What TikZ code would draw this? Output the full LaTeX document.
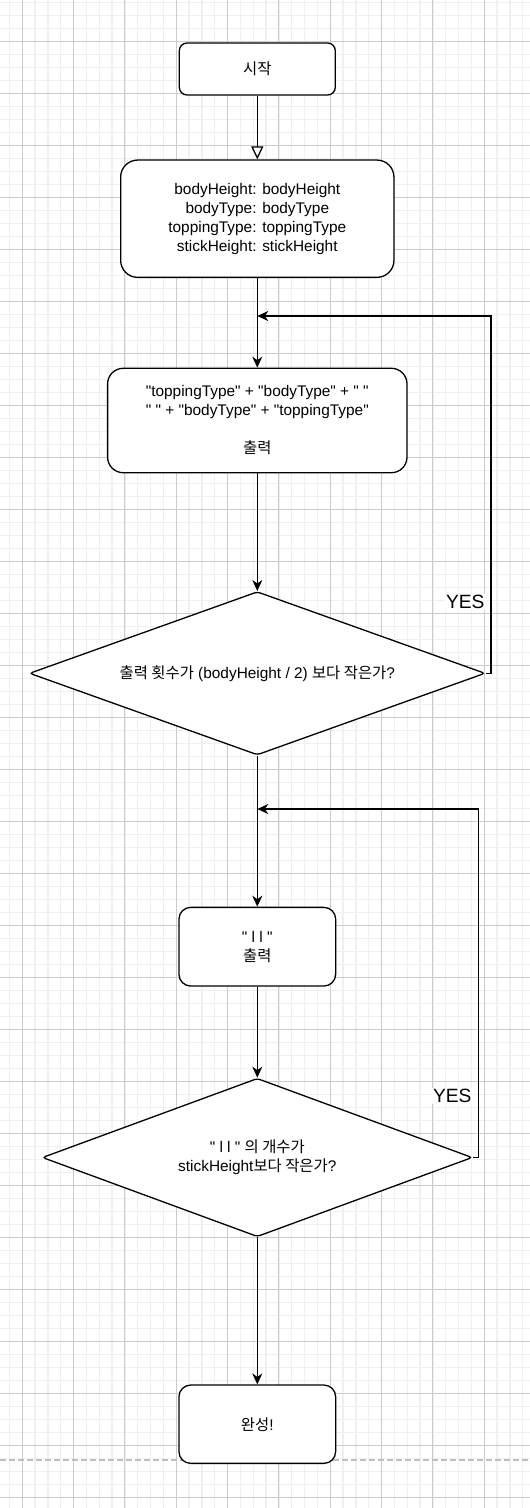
\documentclass[tikz,border=0pt]{standalone}
\usepackage{fontspec}
\newfontfamily\lsans{Liberation Sans}
\newfontfamily\krfont{Noto Sans CJK KR}
\usetikzlibrary{shapes.geometric,arrows.meta}
\newcommand{\kr}[1]{{\krfont #1}}
\begin{document}
\begin{tikzpicture}[x=1pt,y=-1pt,
  every node/.style={font=\lsans\fontsize{15.4}{19}\selectfont, text=black},
  flowbox/.style={draw=black, line width=1.3pt, fill=white, align=center, inner sep=0pt},
  decision/.style={diamond, draw=black, line width=1.3pt, fill=white, align=center, inner sep=0pt, rounded corners=3pt, aspect=2.8},
  conn/.style={draw=black, line width=1.3pt},
  arr/.style={conn, -{Stealth[length=11pt,width=10pt,inset=3.5pt]}},
  openarr/.style={conn, -{Triangle[open,length=13pt,width=12pt,fill=white]}},
  yeslabel/.style={font=\lsans\fontsize{19.2}{23}\selectfont, fill=white, inner sep=1pt},
  minorgrid/.style={draw=black!6, line width=1.4pt},
  majorgrid/.style={draw=black!20, line width=1pt},
  pagebreak/.style={draw=black!25, line width=1.6pt, dash pattern=on 6pt off 3pt},
]
\useasboundingbox (0,0) rectangle (530,1508);
\fill[white] (0,0) rectangle (530,1508);
\begin{scope}
\clip (0,0) rectangle (530,1508);
\foreach \i in {-1,...,41} \draw[minorgrid] ({22.3+12.833*\i},0) -- ({22.3+12.833*\i},1508);
\foreach \j in {0,...,116} \draw[minorgrid] (0,{2.3+13*\j}) -- (530,{2.3+13*\j});
\foreach \i in {0,...,10} \draw[majorgrid] ({22.3+51.33*\i},0) -- ({22.3+51.33*\i},1508);
\foreach \j in {0,...,28} \draw[majorgrid] (0,{41.3+52*\j}) -- (530,{41.3+52*\j});
\end{scope}
\draw[pagebreak] (0,1460) -- (530,1460);

\node[flowbox, minimum width=156pt, minimum height=52pt, rounded corners=7.8pt] (start) at (257.3,69) {\kr{시작}};
\node[flowbox, minimum width=273.3pt, minimum height=117.3pt, rounded corners=17pt] (info) at (257.3,218.7) {bodyHeight: bodyHeight\\bodyType: bodyType\\toppingType: toppingType\\stickHeight: stickHeight};
\node[flowbox, minimum width=299.4pt, minimum height=104.4pt, rounded corners=15.6pt] (out1) at (257.3,420.5) {"toppingType" + "bodyType" + " "\\" " + "bodyType" + "toppingType"\\[19pt]\kr{출력}};
\node[decision, minimum width=455.7pt, minimum height=163.3pt] (d1) at (257.3,673.3) {\kr{출력 횟수가} (bodyHeight / 2) \kr{보다 작은가}?};
\node[flowbox, minimum width=156.7pt, minimum height=78.7pt, rounded corners=11.8pt] (out2) at (257.3,946.7) {" l l "\\\kr{출력}};
\node[decision, minimum width=430pt, minimum height=158.4pt] (d2) at (257.3,1157.5) {" l l " \kr{의 개수가}\\stickHeight\kr{보다 작은가}?};
\node[flowbox, minimum width=156.7pt, minimum height=78.3pt, rounded corners=11.7pt] (done) at (257.3,1424.2) {\kr{완성}!};

\coordinate (j1) at (257.3,316);
\coordinate (c1) at (491,316);
\coordinate (j2) at (257.3,809);
\coordinate (c2) at (478.3,809);

\draw[openarr] (start.south) -- (info.north);
\draw[arr] (info.south) -- (out1.north);
\draw[arr] (out1.south) -- (d1.north);
\draw[arr] (d1.east) -| (c1) -- (j1);
\draw[arr] (d1.south) -- (out2.north);
\draw[arr] (out2.south) -- (d2.north);
\draw[arr] (d2.east) -| (c2) -- (j2);
\draw[arr] (d2.south) -- (done.north);

\node[yeslabel] (yes1) at (465.3,602) {YES};
\node[yeslabel] (yes2) at (452.3,1096) {YES};
\end{tikzpicture}
\end{document}
